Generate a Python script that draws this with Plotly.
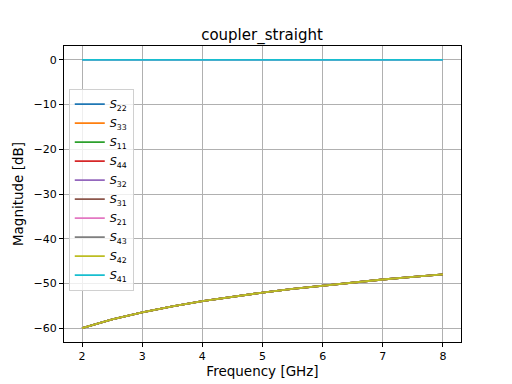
import plotly.graph_objects as go

freq_ghz = [2.0, 2.5, 3.0, 3.5, 4.0, 4.5, 5.0, 5.5, 6.0, 6.5, 7.0, 7.5, 8.0]
through_db = [0.0] * 13
coupled_db = [-60.0, -58.06, -56.48, -55.14, -53.98, -52.96, -52.04,
              -51.21, -50.46, -49.76, -49.12, -48.52, -47.96]

names = ["22", "33", "11", "44", "32", "31", "21", "43", "42", "41"]
colors = ["#1f77b4", "#ff7f0e", "#2ca02c", "#d62728", "#9467bd",
          "#8c564b", "#e377c2", "#7f7f7f", "#bcbd22", "#17becf"]
at_zero = {"32", "21", "41"}

fig = go.Figure()
for n, c in zip(names, colors):
    fig.add_trace(go.Scatter(
        x=freq_ghz, y=through_db if n in at_zero else coupled_db,
        mode="lines", line=dict(color=c, width=1.8),
        name=f"<i>S</i><sub>{n}</sub>"))

axis_common = dict(showline=True, linecolor="black", linewidth=1, mirror=True,
                   showgrid=True, gridcolor="#b0b0b0", gridwidth=0.9,
                   ticks="outside", ticklen=4, tickcolor="black",
                   tickfont=dict(size=11, color="black"), zeroline=False,
                   automargin=False)

# page body has an 8px margin, so the figure is 504x376 placed at (8,8)
fig.update_layout(
    width=504, height=376,
    margin=dict(l=56, r=51, t=38, b=42),
    paper_bgcolor="white", plot_bgcolor="white",
    font=dict(family="DejaVu Sans", color="black"),
    title=dict(text="coupler_straight", x=(262 - 8) / 504, xanchor="center",
               y=1 - 27 / 376, yanchor="middle", font=dict(size=15)),
    xaxis=dict(range=[1.7, 8.3], tickvals=[2, 3, 4, 5, 6, 7, 8],
               title=dict(text="Frequency [GHz]", font=dict(size=13.5), standoff=4),
               **axis_common),
    yaxis=dict(range=[-63.1, 3.1], tickvals=[0, -10, -20, -30, -40, -50, -60],
               title=dict(text="Magnitude [dB]", font=dict(size=13.5), standoff=6),
               **axis_common),
    legend=dict(x=0.012, y=0.856, xanchor="left", yanchor="top",
                bgcolor="rgba(255,255,255,0.8)", bordercolor="#d0d0d0",
                borderwidth=1, font=dict(size=11.2), tracegroupgap=0,
                itemwidth=30),
    showlegend=True,
)

fig.write_html("out.html")
